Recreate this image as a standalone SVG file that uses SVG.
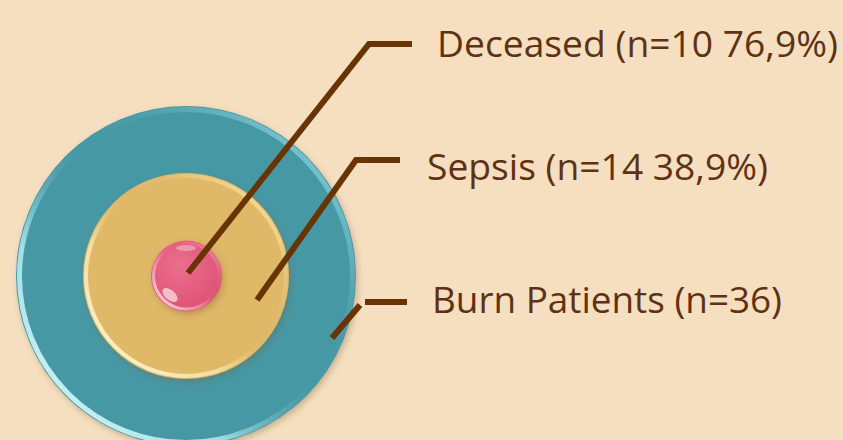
<svg xmlns="http://www.w3.org/2000/svg" width="843" height="440" viewBox="0 0 843 440">
  <style>
    .lbl { font-family: "Open Sans", "Liberation Sans", sans-serif; font-size: 37px; fill: #5E3210; }
    .conn { fill: none; stroke: #6A3400; stroke-width: 6; stroke-linecap: butt; stroke-linejoin: miter; }
  </style>
  <defs>
    <filter id="shadow" x="-20%" y="-20%" width="140%" height="140%">
      <feDropShadow dx="2" dy="3" stdDeviation="3" flood-color="#7a5a30" flood-opacity="0.35"/>
    </filter>
    <linearGradient id="rimTeal" x1="0" y1="1" x2="1" y2="0">
      <stop offset="0" stop-color="#e8ffff" stop-opacity="1"/>
      <stop offset="0.3" stop-color="#bff6f9" stop-opacity="0.75"/>
      <stop offset="0.55" stop-color="#4698a5" stop-opacity="0"/>
      <stop offset="0.85" stop-color="#9ee6ee" stop-opacity="0.5"/>
      <stop offset="1" stop-color="#c8f8fb" stop-opacity="0.8"/>
    </linearGradient>
    <linearGradient id="rimYellow" x1="0" y1="1" x2="1" y2="0">
      <stop offset="0" stop-color="#fffbe0" stop-opacity="1"/>
      <stop offset="0.35" stop-color="#fff0b8" stop-opacity="0.65"/>
      <stop offset="0.55" stop-color="#dfb868" stop-opacity="0"/>
      <stop offset="0.85" stop-color="#fbe7a6" stop-opacity="0.6"/>
      <stop offset="1" stop-color="#fff6cc" stop-opacity="0.9"/>
    </linearGradient>
    <radialGradient id="pinkFill" cx="0.4" cy="0.35" r="0.7">
      <stop offset="0" stop-color="#ec6e8c"/>
      <stop offset="1" stop-color="#dc5274"/>
    </radialGradient>
    <linearGradient id="rimPink" x1="0" y1="1" x2="1" y2="0">
      <stop offset="0" stop-color="#ffffff" stop-opacity="0.9"/>
      <stop offset="0.4" stop-color="#ffc0d0" stop-opacity="0.4"/>
      <stop offset="0.6" stop-color="#dc5274" stop-opacity="0"/>
      <stop offset="1" stop-color="#ffd0dc" stop-opacity="0.7"/>
    </linearGradient>
  </defs>

  <rect x="0" y="0" width="843" height="440" fill="#F6DFC1"/>

  <g id="node-burn">
    <circle cx="186" cy="276" r="170" fill="#4698A5" filter="url(#shadow)"/>
    <circle cx="186" cy="276" r="166.5" fill="none" stroke="url(#rimTeal)" stroke-width="5"/>
    <text class="lbl" x="432" y="313" textLength="350" lengthAdjust="spacingAndGlyphs">Burn Patients (n=36)</text>
  </g>

  <g id="node-sepsis">
    <circle cx="186" cy="276" r="103" fill="#DFB868" filter="url(#shadow)"/>
    <circle cx="186" cy="276" r="100" fill="none" stroke="url(#rimYellow)" stroke-width="4"/>
    <text class="lbl" x="427" y="180" textLength="341" lengthAdjust="spacingAndGlyphs">Sepsis (n=14 38,9%)</text>
  </g>

  <g id="node-deceased">
    <circle cx="186.5" cy="276" r="35.5" fill="url(#pinkFill)" filter="url(#shadow)"/>
    <circle cx="186.5" cy="276" r="33" fill="none" stroke="url(#rimPink)" stroke-width="3"/>
    <ellipse cx="170" cy="295" rx="9" ry="5" fill="#ffffff" opacity="0.6" transform="rotate(40 170 295)"/>
    <ellipse cx="186" cy="248" rx="10" ry="3" fill="#ffffff" opacity="0.35"/>
    <text class="lbl" x="437" y="57" textLength="401" lengthAdjust="spacingAndGlyphs">Deceased (n=10 76,9%)</text>
  </g>

  <g id="connectors">
    <polyline class="conn" points="188,273 369,44 412,44"/>
    <polyline class="conn" points="257,300 356,160 400,160"/>
    <line class="conn" x1="332" y1="338" x2="360" y2="305"/>
    <line class="conn" x1="365" y1="302" x2="407" y2="302"/>
  </g>
</svg>
